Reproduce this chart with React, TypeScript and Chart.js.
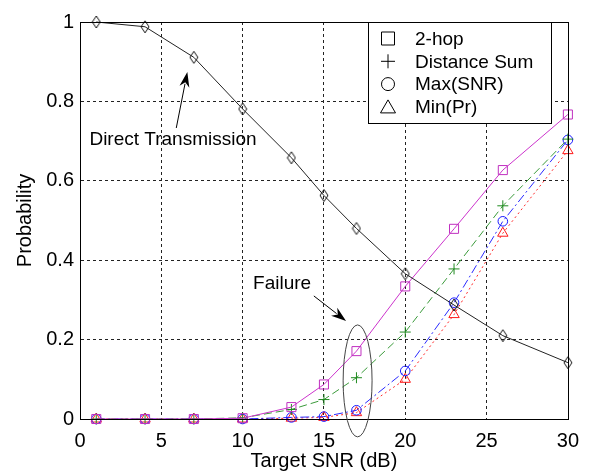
import { useEffect, useRef } from 'react'
import { Chart, registerables } from 'chart.js'

Chart.register(...registerables)

// valeurs
const snr = [1, 4, 7, 10, 13, 15, 17, 20, 23, 26, 30]
const direct = [1.0, 0.988, 0.911, 0.781, 0.658, 0.563, 0.48, 0.366, 0.287, 0.21, 0.142]
const twoHop = [0, 0, 0, 0.002, 0.03, 0.087, 0.171, 0.334, 0.479, 0.627, 0.767]
const distSum = [0, 0, 0, 0.003, 0.024, 0.049, 0.104, 0.219, 0.378, 0.537, 0.705]
const maxSnr = [0, 0, 0, 0, 0.004, 0.006, 0.022, 0.121, 0.293, 0.498, 0.703]
const minPr = [0, 0, 0, 0, 0.002, 0.004, 0.016, 0.1, 0.263, 0.468, 0.676]

const legendLabels = ['2-hop', 'Distance Sum', 'Max(SNR)', 'Min(Pr)']

const FONT = '"Liberation Sans", Arial, sans-serif'

// marqueur losange un peu allonge comme matlab
function makeDiamond(w: number, h: number, color: string) {
    const c = document.createElement('canvas')
    c.width = w + 2
    c.height = h + 2
    const g = c.getContext('2d')!
    g.strokeStyle = color
    g.lineWidth = 1
    g.beginPath()
    g.moveTo(c.width / 2, 1)
    g.lineTo(c.width - 1, c.height / 2)
    g.lineTo(c.width / 2, c.height - 1)
    g.lineTo(1, c.height / 2)
    g.closePath()
    g.stroke()
    return c
}

function arrow(ctx: CanvasRenderingContext2D, x1: number, y1: number, x2: number, y2: number) {
    const ang = Math.atan2(y2 - y1, x2 - x1)
    const len = 15
    const half = 5
    ctx.beginPath()
    ctx.moveTo(x1, y1)
    ctx.lineTo(x2 - Math.cos(ang) * len * 0.8, y2 - Math.sin(ang) * len * 0.8)
    ctx.stroke()
    ctx.beginPath()
    ctx.moveTo(x2, y2)
    ctx.lineTo(x2 - Math.cos(ang) * len - Math.sin(ang) * half, y2 - Math.sin(ang) * len + Math.cos(ang) * half)
    ctx.lineTo(x2 - Math.cos(ang) * len * 0.7, y2 - Math.sin(ang) * len * 0.7)
    ctx.lineTo(x2 - Math.cos(ang) * len + Math.sin(ang) * half, y2 - Math.sin(ang) * len - Math.cos(ang) * half)
    ctx.closePath()
    ctx.fill()
}

// cadre, legende et annotations
const decorPlugin = {
    id: 'decor',
    afterDraw(chart: Chart) {
        const ctx = chart.ctx
        const { left, right, top, bottom } = chart.chartArea
        const xs = chart.scales.x
        const ys = chart.scales.y
        ctx.save()
        ctx.strokeStyle = '#000'
        ctx.fillStyle = '#000'
        ctx.lineWidth = 1
        ctx.setLineDash([])
        ctx.strokeRect(Math.round(left) + 0.5, Math.round(top) + 0.5, Math.round(right - left), Math.round(bottom - top))

        // legende
        const lx = left + 288
        const ly = top + 0.5
        ctx.fillStyle = '#fff'
        ctx.fillRect(lx, ly, 183, 101)
        ctx.strokeRect(lx + 0.5, ly, 183, 101)
        ctx.fillStyle = '#000'
        ctx.font = '19px ' + FONT
        ctx.textBaseline = 'middle'
        ctx.textAlign = 'left'
        legendLabels.forEach((lab, i) => {
            const cy = ly + 16 + i * 22.8
            const cx = lx + 20
            ctx.beginPath()
            if (i === 0) {
                ctx.rect(cx - 6.5, cy - 6.5, 13, 13)
            } else if (i === 1) {
                ctx.moveTo(cx - 7, cy)
                ctx.lineTo(cx + 7, cy)
                ctx.moveTo(cx, cy - 7)
                ctx.lineTo(cx, cy + 7)
            } else if (i === 2) {
                ctx.arc(cx, cy, 6.5, 0, Math.PI * 2)
            } else {
                ctx.moveTo(cx, cy - 7)
                ctx.lineTo(cx + 7.5, cy + 6)
                ctx.lineTo(cx - 7.5, cy + 6)
                ctx.closePath()
            }
            ctx.stroke()
            ctx.fillText(lab, lx + 47, cy + 1)
        })

        // Direct Transmission
        ctx.font = '19px ' + FONT
        ctx.textAlign = 'left'
        ctx.fillText('Direct Transmission', xs.getPixelForValue(0.58), ys.getPixelForValue(0.703))
        arrow(ctx, xs.getPixelForValue(5.92), ys.getPixelForValue(0.733), xs.getPixelForValue(6.6), ys.getPixelForValue(0.874))

        // Failure
        ctx.textAlign = 'center'
        ctx.fillText('Failure', xs.getPixelForValue(12.43), ys.getPixelForValue(0.341))
        arrow(ctx, xs.getPixelForValue(14.38), ys.getPixelForValue(0.31), xs.getPixelForValue(16.36), ys.getPixelForValue(0.247))

        // ellipse autour des points a 17 dB
        const ex = xs.getPixelForValue(17.07)
        const ey = ys.getPixelForValue(0.096)
        const rx = xs.getPixelForValue(17.07 + 0.89) - ex
        const ry = ey - ys.getPixelForValue(0.096 + 0.141)
        ctx.strokeStyle = '#444'
        ctx.beginPath()
        ctx.ellipse(ex, ey, rx, ry, 0, 0, Math.PI * 2)
        ctx.stroke()
        ctx.restore()
    },
}

function App() {
    const canvasRef = useRef<HTMLCanvasElement>(null)

    useEffect(() => {
        if (!canvasRef.current) return
        const diamond = makeDiamond(8, 12, '#111')
        const gridColor = (edge: number[]) => (c: any) =>
            edge.includes(c.tick?.value) ? 'rgba(0,0,0,0)' : '#222'

        const chart = new Chart(canvasRef.current, {
            type: 'line',
            data: {
                labels: snr,
                datasets: [
                    {
                        label: 'Direct Transmission',
                        data: snr.map((s, i) => ({ x: s, y: direct[i] })),
                        borderColor: '#222',
                        borderWidth: 1,
                        pointStyle: diamond,
                        clip: false,
                    },
                    {
                        label: legendLabels[0],
                        data: snr.map((s, i) => ({ x: s, y: twoHop[i] })),
                        borderColor: '#cc33cc',
                        borderWidth: 1,
                        pointStyle: 'rect',
                        pointRadius: 6.4,
                        pointBorderColor: '#c030c0',
                        pointBackgroundColor: 'rgba(0,0,0,0)',
                        clip: false,
                    },
                    {
                        label: legendLabels[1],
                        data: snr.map((s, i) => ({ x: s, y: distSum[i] })),
                        borderColor: '#3a9a3a',
                        borderWidth: 1,
                        borderDash: [8, 4],
                        pointStyle: 'cross',
                        pointRadius: 5.5,
                        pointBorderColor: '#1f8a1f',
                        clip: false,
                    },
                    {
                        label: legendLabels[2],
                        data: snr.map((s, i) => ({ x: s, y: maxSnr[i] })),
                        borderColor: '#2a2aff',
                        borderWidth: 1,
                        borderDash: [9, 3, 2, 3],
                        pointStyle: 'circle',
                        pointRadius: 4.8,
                        pointBorderColor: '#1a1aff',
                        pointBackgroundColor: 'rgba(0,0,0,0)',
                        clip: false,
                    },
                    {
                        label: legendLabels[3],
                        data: snr.map((s, i) => ({ x: s, y: minPr[i] })),
                        borderColor: '#ff2a2a',
                        borderWidth: 1,
                        borderDash: [2, 3],
                        pointStyle: 'triangle',
                        pointRadius: 6,
                        pointBorderColor: '#ff1a1a',
                        pointBackgroundColor: 'rgba(0,0,0,0)',
                        clip: false,
                    },
                ],
            },
            options: {
                animation: false,
                responsive: true,
                maintainAspectRatio: false,
                layout: { padding: { top: 22, right: 20, left: 0, bottom: 0 } },
                elements: {
                    line: { tension: 0 },
                    point: { borderWidth: 1, hoverRadius: 5 },
                },
                plugins: {
                    legend: { display: false },
                    tooltip: { enabled: false },
                },
                scales: {
                    x: {
                        type: 'linear',
                        min: 0,
                        max: 30,
                        afterFit: (s: any) => { s.height = 52 },
                        ticks: {
                            stepSize: 5,
                            padding: 10,
                            color: '#000',
                            font: { family: FONT, size: 20 },
                        },
                        grid: {
                            drawTicks: false,
                            color: gridColor([0, 30]),
                            lineWidth: 1,
                        },
                        border: { display: true, color: '#000', dash: [3, 3] },
                        title: {
                            display: true,
                            text: 'Target SNR (dB)',
                            color: '#000',
                            font: { family: FONT, size: 20, lineHeight: 1 },
                            padding: { top: 0, bottom: 0 },
                        },
                    },
                    y: {
                        min: 0,
                        max: 1,
                        afterFit: (s: any) => { s.width = 80 },
                        ticks: {
                            stepSize: 0.2,
                            padding: 6,
                            color: '#000',
                            font: { family: FONT, size: 20 },
                            callback: (v: any) => String(Math.round(Number(v) * 10) / 10),
                        },
                        grid: {
                            drawTicks: false,
                            color: gridColor([0, 1]),
                            lineWidth: 1,
                        },
                        border: { display: true, color: '#000', dash: [3, 3] },
                        title: {
                            display: true,
                            text: 'Probability',
                            color: '#000',
                            font: { family: FONT, size: 20, lineHeight: 1 },
                            padding: { top: 15, bottom: 0 },
                        },
                    },
                },
            },
            plugins: [decorPlugin],
        })

        return () => {
            chart.destroy()
        }
    }, [])

    return (
        <div style={{ position: 'fixed', left: 0, top: 0, width: 589, height: 471, background: '#fff' }}>
            <canvas ref={canvasRef}></canvas>
        </div>
    )
}

export default App
